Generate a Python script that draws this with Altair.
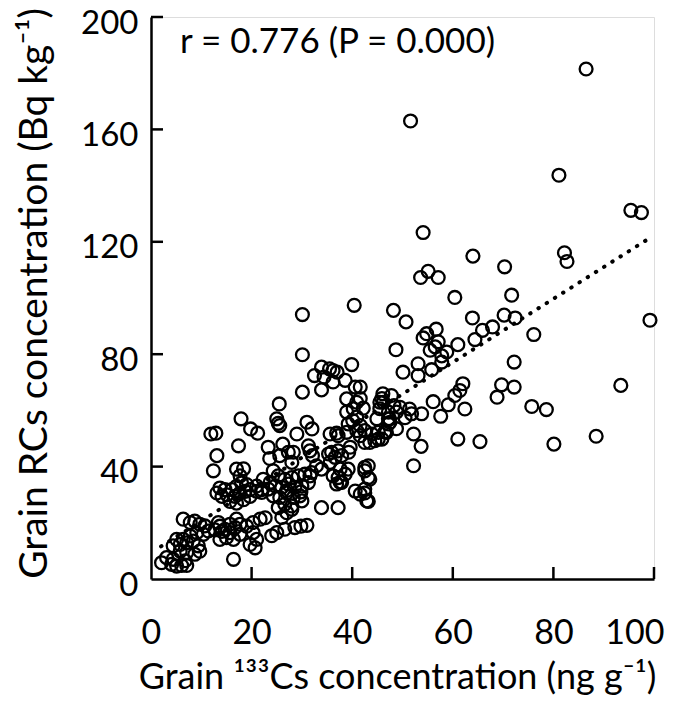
import altair as alt
import pandas as pd

# ---- data ----
cs133 = [
    86.5, 51.6, 81.1, 95.4, 97.5, 54.1, 64.0, 70.3, 82.2, 82.7, 55.1, 53.6, 57.1, 40.4, 30.1,
    60.4, 71.7, 48.2, 50.7, 63.9, 70.2, 72.4, 67.9, 65.9, 64.4, 76.1, 99.2, 56.7, 54.8, 54.1,
    57.1, 56.5, 55.5, 58.8, 61.0, 48.7, 53.1, 50.1, 53.1, 55.8, 57.8, 72.2, 62.0, 61.4, 60.4,
    59.1, 56.1, 57.6, 62.4, 69.7, 68.8, 72.2, 75.7, 78.6, 93.4, 88.5, 80.1, 65.4, 61.0, 52.2,
    53.7, 52.2, 46.1, 46.2, 48.3, 51.4, 51.8, 53.8, 47.4, 46.8, 49.5, 57.8, 50.5,
    30.1, 39.9, 33.9, 35.5, 32.5, 37.0, 36.2, 38.6, 33.9, 30.1, 40.6, 41.6, 38.9, 40.9, 42.2,
    38.9, 45.5, 40.1, 41.6, 44.9, 47.2, 40.9, 36.2, 34.4, 40.2, 41.6, 40.9, 39.2, 45.9, 47.8,
    45.5, 47.2, 48.8, 47.2, 48.8,
    25.5, 17.9, 25.0, 25.3, 25.6, 19.8, 21.2, 31.0, 32.0, 29.0, 11.9, 12.9, 35.6, 36.9, 37.2, 38.9,
    17.4, 13.1, 12.4, 23.3, 23.6, 26.2, 28.3, 31.3, 31.6, 32.1, 32.9, 35.9, 37.2, 39.6, 35.6,
    37.6, 39.2, 37.2, 37.6, 33.9, 41.6, 43.5, 45.2, 47.5, 42.5, 43.2, 42.5, 41.6, 42.9, 40.6,
    33.9, 37.2, 31.6, 25.6, 27.3, 31.9, 35.3, 36.6, 37.9, 39.3, 36.2, 38.6, 36.9, 37.9,
    42.5, 43.9, 45.2, 46.5, 42.5, 44.5, 45.9, 43.2, 42.5, 43.5, 42.5, 43.2,
    24.3, 25.3, 26.6, 28.0, 29.3, 30.6, 28.0, 22.3, 23.7, 24.7, 26.0, 27.3, 28.6, 30.0, 31.3,
    23.3, 21.0, 22.0, 24.3, 25.6, 27.0, 28.3, 29.6, 26.6, 28.0, 30.0, 25.3, 27.0, 26.0, 28.0,
    27.0, 29.8,
    25.0, 24.0, 26.6, 28.6, 29.8, 31.0,
    13.7, 14.7, 13.1, 14.1, 15.1, 16.1, 17.0, 18.0, 19.0, 16.7, 17.7, 18.7, 19.7, 15.7, 17.0,
    18.4, 19.7, 21.0, 22.0, 17.0, 18.4, 17.7,
    6.4, 7.8, 8.7, 9.7, 10.7, 11.4, 10.4, 9.1, 7.8, 6.4, 5.1, 4.4, 5.8, 7.1, 8.4, 9.4, 5.8,
    7.1, 8.7, 9.7,
    13.7, 14.7, 15.7, 16.7, 17.7, 19.0, 20.3, 21.7, 22.7, 15.0, 16.4, 17.7, 20.3, 21.0, 19.7,
    20.7, 17.0, 15.7, 13.7, 14.1, 12.7, 13.4,
    2.1, 3.1, 4.1, 5.1, 6.1, 7.1, 4.4, 6.8, 16.4,
]
rcs = [
    181.5, 163.0, 143.7, 131.2, 130.4, 123.3, 114.9, 111.1, 116.1, 113.0, 109.5, 107.3, 107.3, 97.4, 94.1,
    100.2, 101.0, 95.6, 91.5, 92.9, 93.9, 92.9, 89.7, 88.5, 85.2, 87.0, 92.1, 88.9, 87.3, 85.8,
    84.4, 82.6, 81.4, 80.8, 83.4, 81.6, 76.6, 73.6, 72.4, 74.5, 77.2, 77.2, 69.5, 67.1, 65.3,
    62.0, 63.1, 57.9, 60.5, 69.1, 64.7, 68.3, 61.4, 60.3, 68.9, 50.8, 48.0, 48.9, 49.8, 51.6,
    47.2, 40.3, 65.9, 62.9, 61.7, 60.5, 58.8, 58.8, 57.0, 52.2, 61.1, 79.4, 57.4,
    79.8, 76.3, 75.4, 74.8, 72.4, 73.6, 70.1, 70.7, 67.3, 66.5, 68.3, 68.3, 64.1, 62.9, 60.8,
    59.4, 62.9, 56.4, 54.6, 57.0, 57.0, 52.8, 74.2, 71.9, 60.6, 64.2, 57.6, 55.2, 64.2, 65.3,
    60.6, 59.4, 59.4, 55.2, 53.5,
    62.3, 57.0, 57.0, 55.4, 54.6, 53.4, 51.9, 55.8, 53.4, 51.6, 51.6, 51.9, 51.6, 51.9, 51.0, 52.2,
    47.4, 43.9, 38.5, 46.9, 42.9, 48.0, 45.1, 47.4, 45.6, 43.9, 40.3, 45.1, 45.6, 46.9, 41.5,
    39.1, 39.1, 36.1, 34.4, 39.1, 51.0, 48.6, 49.8, 55.8, 39.7, 36.1, 32.0, 30.2, 27.8, 31.3,
    25.4, 25.4, 36.7, 43.9, 45.1, 37.9, 44.5, 43.3, 43.9, 45.1, 36.7, 37.3, 33.8, 34.4,
    52.8, 51.6, 52.2, 52.4, 48.6, 49.2, 49.8, 40.3, 38.5, 35.5, 30.6, 27.6,
    38.5, 36.7, 35.5, 36.1, 36.7, 37.3, 41.5, 35.5, 34.4, 33.1, 32.6, 33.8, 32.6, 33.1, 34.3,
    32.0, 33.1, 30.8, 29.6, 29.0, 30.6, 29.0, 29.6, 26.6, 26.0, 27.8, 25.4, 23.6, 21.9, 24.8,
    31.5, 31.0,
    16.5, 15.4, 17.7, 18.3, 18.8, 19.1,
    32.4, 31.8, 30.6, 29.4, 30.0, 31.8, 33.0, 34.2, 33.6, 29.4, 30.6, 31.2, 31.8, 27.6, 27.0,
    28.2, 29.4, 31.2, 31.8, 39.1, 39.2, 36.7,
    21.3, 20.1, 20.6, 19.5, 18.9, 17.1, 15.9, 16.5, 15.3, 14.1, 14.1, 11.8, 12.3, 12.9, 13.5, 11.8, 9.9,
    9.4, 8.8, 9.9,
    18.8, 17.7, 19.5, 18.3, 19.5, 18.8, 20.1, 21.3, 21.8, 14.7, 14.1, 15.9, 16.5, 14.1, 12.3,
    11.1, 21.3, 16.5, 14.1, 16.9, 17.5, 20.1,
    5.8, 7.6, 5.2, 4.6, 4.8, 4.8, 7.0, 6.5, 7.0,
]

fit_x = [2.0, 98.5]
fit_y = [11.6, 120.6]

x_ticks = [0, 20, 40, 60, 80, 100]
y_ticks = [0, 40, 80, 120, 160, 200]
annotation = "r = 0.776 (P = 0.000)"
x_title = "Grain \u00b9\u00b3\u00b3Cs concentration (ng g\u207b\u00b9)"
y_title = "Grain RCs concentration (Bq kg\u207b\u00b9)"

FONT = "Lato"
W, H = 503, 562

pts = pd.DataFrame({"x": cs133, "y": rcs})
fit = pd.DataFrame({"x": fit_x, "y": fit_y})
xt = pd.DataFrame({"v": [t for t in x_ticks if t != 0]})
yt = pd.DataFrame({"v": [t for t in y_ticks if t != 0]})

xscale = alt.Scale(domain=[0, 100], nice=False, zero=False)
yscale = alt.Scale(domain=[0, 200], nice=False, zero=False)

xaxis = alt.Axis(
    values=x_ticks, ticks=False, grid=False, domainColor="black", domainWidth=2.5,
    labelFont=FONT, labelFontSize=34, labelColor="black", labelPadding=37,
    labelFlush=True, labelFlushOffset=10, labelOverlap=False,
    title=x_title, titleFont=FONT, titleFontSize=36, titleFontWeight="normal",
    titleColor="black", titleY=109, titleBaseline="alphabetic", titleX=246,
    titleAlign="center",
)
yaxis = alt.Axis(
    values=y_ticks, ticks=False, grid=False, domainColor="black", domainWidth=2.5,
    labelFont=FONT, labelFontSize=33, labelColor="black", labelPadding=13,
    labelFlush=False, labelOverlap=False, labelOffset=6,
    title=y_title, titleFont=FONT, titleFontSize=39, titleFontWeight="normal",
    titleColor="black", titleX=-105, titleY=276, titleBaseline="alphabetic",
    titleAngle=270, titleAlign="center",
)

points = alt.Chart(pts).mark_point(
    shape="circle", filled=False, color="black", size=165, strokeWidth=2.3, opacity=1
).encode(
    x=alt.X("x:Q", scale=xscale, axis=xaxis),
    y=alt.Y("y:Q", scale=yscale, axis=yaxis),
)

line = alt.Chart(fit).mark_line(
    color="black", strokeWidth=4, strokeDash=[0.5, 9.2], strokeCap="round"
).encode(x=alt.X("x:Q", scale=xscale), y=alt.Y("y:Q", scale=yscale))

xtick_marks = alt.Chart(xt).mark_rule(color="black", strokeWidth=2.5).encode(
    x=alt.X("v:Q", scale=xscale), y=alt.value(H), y2=alt.value(H - 12)
)
ytick_marks = alt.Chart(yt).mark_rule(color="black", strokeWidth=2.5).encode(
    y=alt.Y("v:Q", scale=yscale), x=alt.value(0), x2=alt.value(12)
)

label = alt.Chart(pd.DataFrame({"t": [annotation]})).mark_text(
    font=FONT, fontSize=35, color="black", align="left", baseline="middle"
).encode(text="t:N", x=alt.value(29), y=alt.value(25))

chart = alt.layer(points, line, xtick_marks, ytick_marks, label).properties(
    width=W, height=H,
    autosize=alt.AutoSizeParams(type="none"),
    padding={"left": 143, "top": 9, "right": 23, "bottom": 116},
).configure_view(stroke=None).configure(font=FONT)

chart.save("out.html", embed_options={"renderer": "svg", "actions": False})
